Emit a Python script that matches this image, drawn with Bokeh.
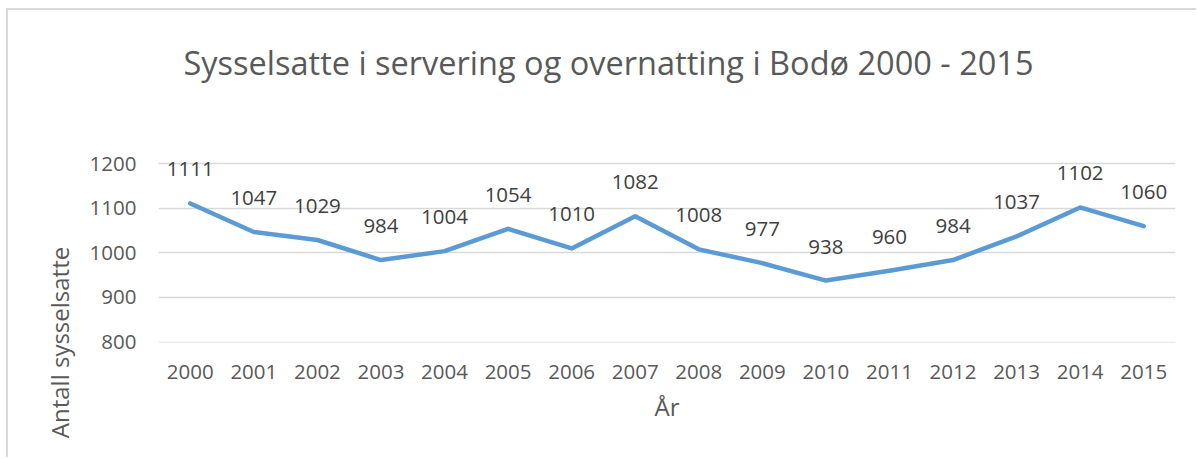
from bokeh.plotting import figure
from bokeh.models import ColumnDataSource, FixedTicker, Range1d, LabelSet, Label
from bokeh.core.properties import value
from bokeh.embed import file_html
from bokeh.resources import INLINE

years = [2000, 2001, 2002, 2003, 2004, 2005, 2006, 2007, 2008, 2009, 2010, 2011, 2012, 2013, 2014, 2015]
employed = [1111, 1047, 1029, 984, 1004, 1054, 1010, 1082, 1008, 977, 938, 960, 984, 1037, 1102, 1060]
labels = [str(v) for v in employed]
y_ticks = [800, 900, 1000, 1100, 1200]

title_text = "Sysselsatte i servering og overnatting i Bodø 2000 - 2015"
x_label = "År"
y_label = "Antall sysselsatte"

FONT = "Open Sans"
TXT = "#595959"

src = ColumnDataSource(dict(x=years, y=employed, t=labels))

# frame extends upward to hold the title (annotations are clipped to the frame)
p = figure(width=1190, height=449, output_backend="svg", toolbar_location=None,
           x_range=Range1d(1999.5, 2015.5), y_range=Range1d(799, 1499),
           min_border_left=150, min_border_right=23, min_border_top=20, min_border_bottom=117,
           background_fill_color="white", border_fill_color="white",
           styles={"margin-left": "6px", "margin-top": "8px",
                   "border-left": "2px solid #d9d9d9", "border-top": "2px solid #d9d9d9"})
p.outline_line_color = None

p.add_layout(Label(x=25, y=280, x_units="screen", y_units="screen", text=title_text,
                   text_align="left", text_baseline="middle", text_font=FONT,
                   text_font_size="32.5px", text_color=TXT))

p.line("x", "y", source=src, line_color="#5b9bd5", line_width=4.5, line_join="round", line_cap="round")

p.add_layout(LabelSet(x="x", y="y", text="t", source=src, text_align="center", text_baseline="middle",
                      y_offset=34, text_font=value(FONT), text_font_size="20.5px", text_color="#404040"))

p.xgrid.grid_line_color = None
p.ygrid.grid_line_color = "#d9d9d9"
p.ygrid.grid_line_width = 1.3

p.xaxis.ticker = FixedTicker(ticks=years)
p.yaxis.ticker = FixedTicker(ticks=y_ticks)
for ax in (p.xaxis, p.yaxis):
    ax.axis_line_color = None
    ax.major_tick_line_color = None
    ax.minor_tick_line_color = None
    ax.major_label_text_font = FONT
    ax.major_label_text_font_size = "20.5px"
    ax.major_label_text_color = TXT
    ax.axis_label_text_font = FONT
    ax.axis_label_text_font_size = "24px"
    ax.axis_label_text_font_style = "normal"
    ax.axis_label_text_color = TXT
p.xaxis.axis_label = x_label
p.yaxis.axis_label = y_label
p.xaxis.major_label_standoff = 16
p.yaxis.major_label_standoff = 16
p.xaxis.axis_label_standoff = 8
p.yaxis.axis_label_standoff = 11
p.yaxis.axis_label_align = "start"

open("out.html", "w").write(file_html(p, INLINE))
